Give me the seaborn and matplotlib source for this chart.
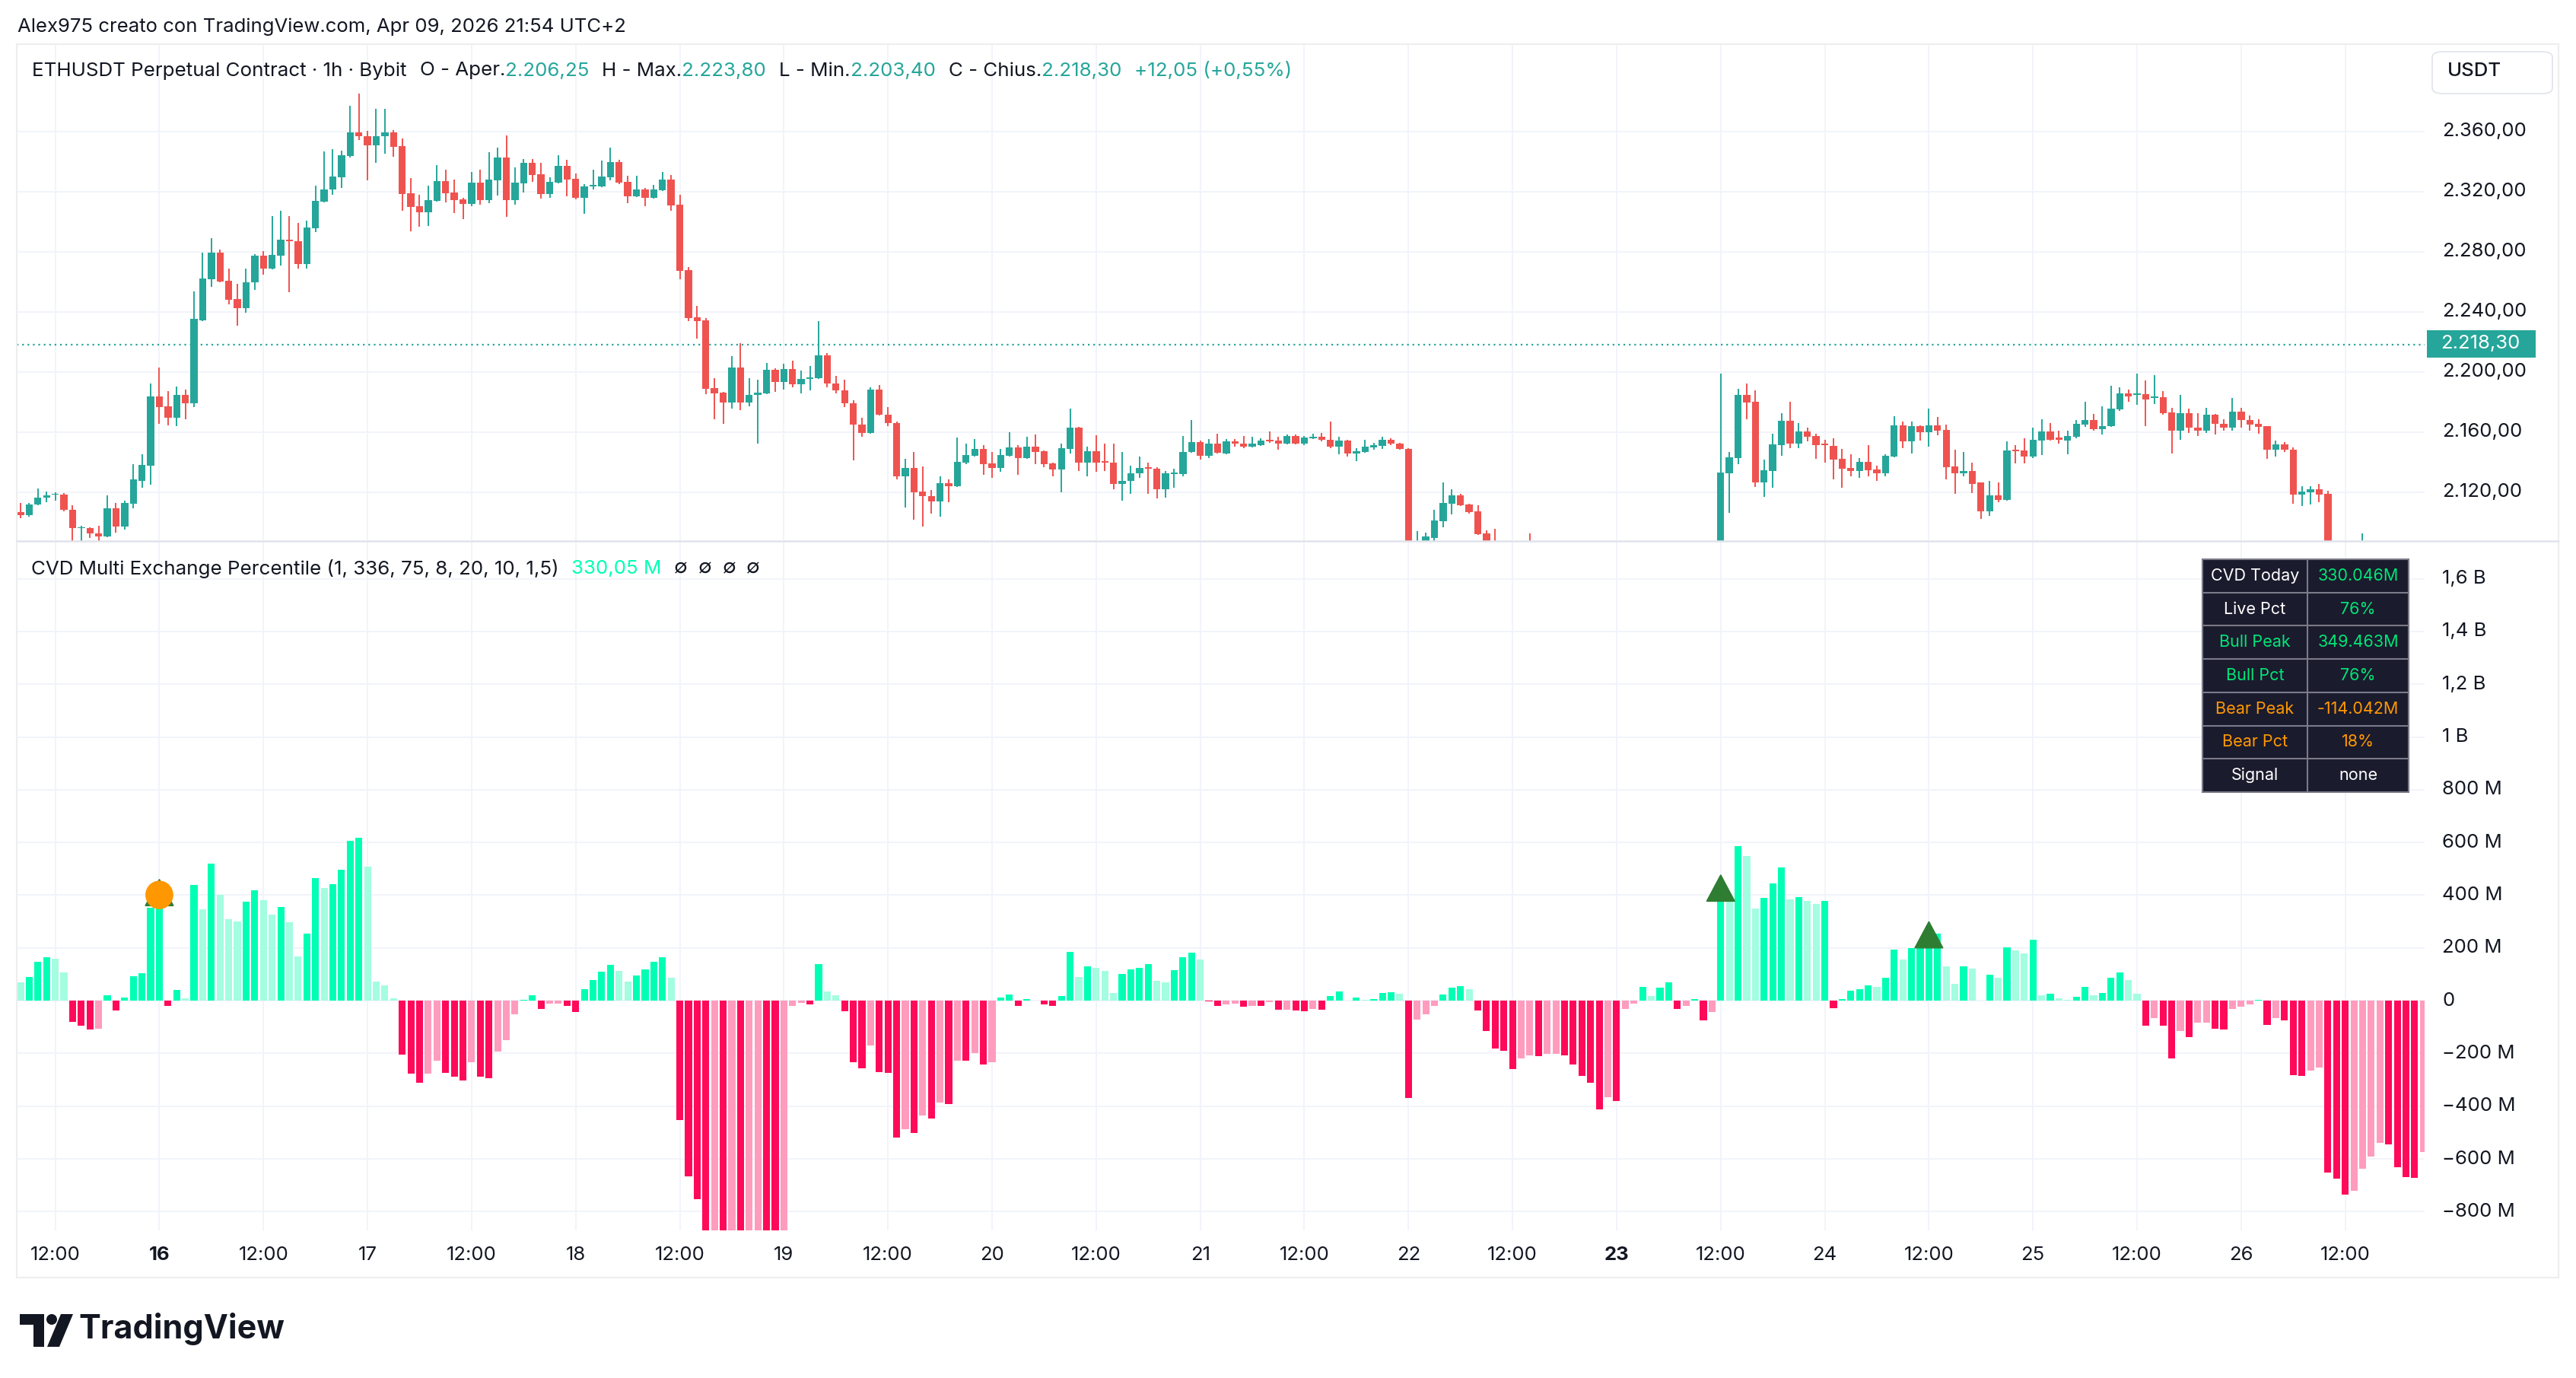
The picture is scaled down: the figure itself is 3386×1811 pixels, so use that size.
import numpy as np
import pandas as pd
import matplotlib
matplotlib.use("Agg")
import matplotlib.pyplot as plt
import seaborn as sns
from matplotlib import transforms
from matplotlib.patches import Rectangle, FancyBboxPatch, Polygon, Ellipse

# hourly ETHUSDT candles, first bar 15 Mar 08:00
first_bar = "2026-03-15 08:00"

open_ = [
    2107.0, 2104.6, 2111.8, 2116.2, 2118.4, 2118.6, 2108.2, 2096.0, 2096.4, 2092.8,
    2090.4, 2109.4, 2097.4, 2112.2, 2127.8, 2137.8, 2183.8, 2177.2, 2169.8, 2184.8,
    2179.4, 2234.4, 2261.8, 2279.4, 2260.8, 2248.6, 2242.2, 2259.6, 2277.4, 2268.8,
    2277.4, 2288.0, 2287.2, 2271.8, 2295.8, 2313.4, 2321.2, 2329.6, 2343.6, 2359.4,
    2356.8, 2350.8, 2356.6, 2359.4, 2350.2, 2319.0, 2310.4, 2306.2, 2313.8, 2327.0,
    2319.4, 2315.0, 2311.8, 2326.0, 2314.4, 2327.4, 2342.8, 2314.4, 2325.4, 2339.2,
    2331.6, 2318.4, 2326.0, 2337.2, 2328.6, 2315.8, 2323.4, 2323.4, 2329.6, 2339.6,
    2326.4, 2316.8, 2321.4, 2315.8, 2320.8, 2328.0, 2311.4, 2267.8, 2236.4, 2234.4,
    2189.4, 2186.4, 2179.8, 2203.0, 2179.8, 2184.8, 2185.8, 2201.4, 2193.2, 2201.8,
    2191.6, 2195.2, 2195.8, 2211.2, 2192.4, 2187.8, 2179.2, 2165.2, 2159.2, 2188.4,
    2171.8, 2166.2, 2130.8, 2136.4, 2120.6, 2117.6, 2113.8, 2126.2, 2123.8, 2139.8,
    2144.4, 2149.0, 2139.4, 2136.4, 2144.4, 2150.0, 2142.8, 2150.4, 2147.4, 2139.4,
    2135.2, 2149.0, 2163.2, 2139.8, 2147.4, 2140.8, 2139.8, 2125.8, 2127.6, 2132.4,
    2136.8, 2135.8, 2121.8, 2132.0, 2132.0, 2146.6, 2153.4, 2144.4, 2152.4, 2145.8,
    2153.8, 2152.4, 2150.4, 2151.4, 2154.8, 2154.4, 2152.4, 2157.4, 2152.4, 2156.0,
    2156.8, 2154.8, 2150.4, 2154.4, 2145.8, 2147.0, 2150.0, 2150.8, 2154.8, 2152.4,
    2148.8, 2076.0, 2085.0, 2089.8, 2100.7, 2112.5, 2117.8, 2111.8, 2107.2, 2092.6,
    2082.0, 2078.0, 2072.0, 2066.0, 2075.0, 2073.0, 2066.0, 2064.0, 2060.0, 2055.0,
    2050.0, 2044.0, 2038.0, 2030.0, 2034.0, 2026.0, 2032.0, 2036.0, 2045.0, 2048.0,
    2055.0, 2061.0, 2058.0, 2056.0, 2060.0, 2054.0, 2056.0, 2132.8, 2142.8, 2184.8,
    2180.4, 2126.4, 2134.2, 2151.4, 2167.6, 2152.4, 2160.6, 2157.2, 2152.4, 2151.0,
    2142.4, 2136.4, 2134.4, 2140.4, 2135.4, 2132.4, 2143.8, 2164.6, 2153.8, 2164.2,
    2160.2, 2164.6, 2161.6, 2137.4, 2132.8, 2134.4, 2126.4, 2107.4, 2118.2, 2114.8,
    2148.4, 2148.0, 2143.8, 2154.6, 2160.6, 2156.2, 2154.6, 2157.0, 2165.2, 2168.2,
    2162.2, 2163.8, 2175.2, 2185.8, 2184.8, 2185.4, 2182.8, 2183.4, 2173.2, 2161.2,
    2172.8, 2163.2, 2161.2, 2171.8, 2165.6, 2162.8, 2173.8, 2168.2, 2165.6, 2163.8,
    2148.2, 2152.0, 2148.4, 2118.4, 2120.2, 2122.2, 2118.8, 2066.0, 2058.0, 2046.0,
    2055.0, 2070.0, 2062.0, 2054.0, 2048.0, 2040.0, 2034.0, 2028.0,
]
high_ = [
    2113.0, 2112.8, 2122.4, 2120.4, 2120.2, 2119.4, 2111.6, 2097.6, 2096.8, 2097.8,
    2117.8, 2112.8, 2114.2, 2138.8, 2145.2, 2192.2, 2202.8, 2187.4, 2190.4, 2188.4,
    2253.8, 2279.2, 2288.8, 2281.2, 2268.8, 2258.8, 2268.6, 2278.2, 2280.2, 2303.4,
    2307.2, 2303.8, 2299.2, 2300.4, 2323.8, 2346.8, 2348.2, 2347.2, 2376.8, 2385.2,
    2360.4, 2375.2, 2375.2, 2360.8, 2355.4, 2329.0, 2317.8, 2324.0, 2337.6, 2334.6,
    2328.0, 2316.0, 2332.8, 2334.6, 2346.4, 2349.2, 2357.4, 2336.2, 2341.6, 2341.6,
    2339.2, 2329.4, 2344.2, 2341.2, 2332.0, 2325.0, 2334.6, 2340.6, 2349.2, 2341.2,
    2330.6, 2330.6, 2322.4, 2324.4, 2333.0, 2331.0, 2317.8, 2269.8, 2244.0, 2236.0,
    2196.0, 2186.8, 2210.6, 2219.0, 2196.0, 2195.0, 2206.2, 2202.4, 2205.4, 2207.4,
    2200.8, 2203.8, 2233.8, 2212.4, 2197.4, 2194.8, 2181.2, 2169.4, 2189.8, 2191.4,
    2176.8, 2166.8, 2142.4, 2147.0, 2137.4, 2121.4, 2130.8, 2128.8, 2156.2, 2152.2,
    2155.2, 2151.6, 2147.0, 2148.6, 2160.2, 2151.2, 2156.8, 2158.2, 2147.8, 2139.8,
    2152.4, 2175.8, 2163.6, 2150.4, 2157.8, 2152.4, 2152.4, 2147.0, 2137.8, 2143.8,
    2139.8, 2136.8, 2134.4, 2135.8, 2157.2, 2168.2, 2154.4, 2155.4, 2158.8, 2155.4,
    2155.4, 2157.4, 2156.8, 2155.8, 2160.4, 2156.8, 2158.4, 2158.4, 2157.4, 2159.0,
    2159.2, 2167.2, 2156.8, 2154.8, 2149.4, 2154.8, 2152.8, 2156.8, 2155.8, 2152.8,
    2149.2, 2094.4, 2093.4, 2108.3, 2126.4, 2121.9, 2119.2, 2112.3, 2111.3, 2094.6,
    2095.7, 2084.0, 2080.0, 2079.0, 2092.6, 2078.0, 2072.0, 2070.0, 2066.0, 2062.0,
    2056.0, 2050.0, 2044.0, 2038.0, 2040.0, 2036.0, 2040.0, 2048.0, 2052.0, 2058.0,
    2064.0, 2066.0, 2063.0, 2064.0, 2065.0, 2060.0, 2198.8, 2147.0, 2188.8, 2192.2,
    2187.8, 2141.8, 2158.8, 2172.4, 2180.4, 2166.2, 2163.2, 2158.8, 2154.8, 2155.8,
    2149.0, 2145.4, 2142.8, 2151.4, 2137.8, 2145.4, 2170.8, 2167.2, 2167.2, 2164.6,
    2175.4, 2170.0, 2165.2, 2148.4, 2147.0, 2139.8, 2126.8, 2127.4, 2126.4, 2154.0,
    2151.4, 2156.0, 2163.2, 2168.8, 2166.2, 2161.0, 2161.0, 2167.8, 2180.4, 2172.2,
    2177.4, 2191.0, 2190.0, 2188.2, 2198.8, 2194.2, 2198.0, 2187.4, 2176.2, 2184.8,
    2175.4, 2172.8, 2176.2, 2172.2, 2168.8, 2182.8, 2176.2, 2171.2, 2168.8, 2164.2,
    2154.4, 2153.4, 2150.0, 2123.8, 2123.8, 2125.4, 2120.8, 2074.0, 2064.0, 2060.0,
    2092.8, 2080.0, 2068.0, 2060.0, 2054.0, 2046.0, 2040.0, 2036.0,
]
low_ = [
    2102.6, 2104.0, 2111.2, 2113.2, 2114.2, 2107.2, 2086.0, 2086.0, 2089.4, 2087.0,
    2090.0, 2093.4, 2095.4, 2109.4, 2122.8, 2124.8, 2165.4, 2164.4, 2163.8, 2168.8,
    2176.4, 2233.8, 2256.4, 2259.6, 2244.8, 2230.6, 2239.2, 2254.8, 2264.8, 2268.2,
    2270.8, 2252.8, 2268.8, 2268.8, 2292.8, 2312.8, 2317.8, 2322.2, 2342.8, 2354.0,
    2327.2, 2339.2, 2345.2, 2343.2, 2307.4, 2293.6, 2296.8, 2297.2, 2313.2, 2312.8,
    2305.8, 2301.8, 2310.4, 2311.4, 2312.4, 2317.4, 2303.2, 2311.4, 2319.4, 2326.4,
    2315.4, 2315.8, 2325.6, 2316.8, 2314.8, 2305.4, 2321.4, 2323.0, 2327.6, 2325.0,
    2312.4, 2316.4, 2310.4, 2315.4, 2320.4, 2307.4, 2261.8, 2234.0, 2222.2, 2185.4,
    2168.4, 2165.4, 2175.8, 2174.8, 2177.4, 2152.2, 2185.2, 2186.8, 2188.2, 2189.6,
    2185.8, 2187.8, 2195.4, 2189.8, 2185.8, 2176.4, 2141.4, 2156.8, 2158.8, 2171.0,
    2164.2, 2128.8, 2109.8, 2101.8, 2097.4, 2105.8, 2103.8, 2113.4, 2123.4, 2138.8,
    2143.8, 2131.4, 2129.4, 2133.8, 2143.8, 2131.4, 2142.4, 2138.8, 2136.8, 2130.8,
    2119.8, 2145.8, 2134.2, 2130.4, 2133.4, 2134.4, 2121.8, 2114.2, 2118.8, 2129.4,
    2118.8, 2115.8, 2116.2, 2122.8, 2130.4, 2146.2, 2141.8, 2142.8, 2146.0, 2145.2,
    2150.4, 2149.4, 2150.0, 2151.0, 2152.8, 2148.4, 2152.0, 2151.8, 2151.4, 2155.6,
    2153.8, 2149.4, 2145.4, 2143.8, 2140.8, 2146.4, 2148.4, 2148.8, 2151.4, 2148.4,
    2068.0, 2070.0, 2080.0, 2085.0, 2096.8, 2105.2, 2110.8, 2105.7, 2091.8, 2078.0,
    2072.0, 2068.0, 2060.0, 2062.0, 2070.0, 2062.0, 2058.0, 2056.0, 2050.0, 2046.0,
    2040.0, 2034.0, 2024.0, 2022.0, 2020.0, 2022.0, 2028.0, 2034.0, 2040.0, 2044.0,
    2052.0, 2054.0, 2052.0, 2054.0, 2050.0, 2048.0, 2054.0, 2106.2, 2138.8, 2168.4,
    2123.4, 2116.8, 2123.2, 2144.4, 2149.4, 2149.4, 2153.8, 2142.4, 2139.8, 2128.8,
    2122.8, 2130.8, 2129.4, 2130.4, 2127.4, 2130.8, 2143.4, 2149.4, 2146.0, 2154.4,
    2150.4, 2157.8, 2128.8, 2118.8, 2130.4, 2119.4, 2102.2, 2104.4, 2113.2, 2114.4,
    2139.4, 2139.4, 2142.8, 2145.0, 2154.6, 2152.4, 2145.4, 2155.8, 2163.6, 2160.8,
    2158.2, 2163.4, 2174.2, 2180.4, 2178.4, 2163.8, 2178.8, 2171.4, 2146.0, 2155.0,
    2159.2, 2157.2, 2159.6, 2158.2, 2161.2, 2160.8, 2163.2, 2160.8, 2158.8, 2142.4,
    2143.8, 2146.8, 2112.4, 2110.8, 2111.8, 2113.2, 2060.0, 2052.0, 2040.0, 2040.0,
    2050.0, 2058.0, 2050.0, 2044.0, 2036.0, 2030.0, 2024.0, 2020.0,
]
close_ = [
    2104.6, 2112.0, 2116.4, 2118.2, 2119.2, 2108.2, 2096.0, 2096.8, 2092.6, 2090.4,
    2109.4, 2097.4, 2112.8, 2128.4, 2138.4, 2183.8, 2176.8, 2169.8, 2184.8, 2179.4,
    2235.2, 2262.2, 2279.4, 2260.2, 2248.0, 2242.2, 2259.8, 2277.4, 2268.8, 2278.0,
    2287.8, 2287.0, 2271.8, 2296.2, 2313.8, 2321.4, 2330.0, 2344.2, 2359.4, 2356.6,
    2350.8, 2356.8, 2359.4, 2349.8, 2318.4, 2309.8, 2306.2, 2314.4, 2327.0, 2319.0,
    2314.4, 2311.8, 2326.0, 2314.4, 2328.0, 2342.8, 2314.4, 2326.0, 2339.2, 2331.0,
    2318.4, 2326.4, 2337.2, 2328.0, 2315.8, 2323.4, 2324.4, 2330.0, 2339.6, 2326.0,
    2316.8, 2321.4, 2315.8, 2321.4, 2328.0, 2310.8, 2267.4, 2236.0, 2234.0, 2189.0,
    2186.0, 2179.8, 2203.0, 2179.8, 2184.8, 2186.4, 2201.4, 2193.2, 2201.8, 2191.6,
    2195.2, 2196.2, 2211.2, 2192.4, 2187.8, 2179.2, 2164.8, 2159.2, 2188.4, 2171.4,
    2166.2, 2130.8, 2136.4, 2120.2, 2117.2, 2113.8, 2126.2, 2123.8, 2140.4, 2145.0,
    2149.0, 2138.8, 2136.4, 2145.0, 2150.0, 2142.8, 2150.4, 2147.0, 2138.8, 2135.2,
    2149.4, 2163.2, 2139.8, 2147.4, 2139.8, 2139.8, 2125.8, 2127.8, 2132.8, 2136.4,
    2135.8, 2121.8, 2132.4, 2133.0, 2147.0, 2153.4, 2144.4, 2152.4, 2146.4, 2153.8,
    2152.4, 2150.4, 2152.4, 2154.4, 2154.0, 2152.4, 2157.4, 2152.4, 2156.4, 2157.0,
    2154.8, 2150.4, 2154.4, 2145.8, 2147.4, 2150.4, 2151.4, 2154.8, 2152.4, 2148.8,
    2076.0, 2085.0, 2090.4, 2101.2, 2112.8, 2117.8, 2111.4, 2106.9, 2092.3, 2082.0,
    2078.0, 2072.0, 2066.0, 2075.0, 2073.0, 2066.0, 2064.0, 2060.0, 2055.0, 2050.0,
    2044.0, 2038.0, 2030.0, 2034.0, 2026.0, 2032.0, 2036.0, 2045.0, 2048.0, 2055.0,
    2061.0, 2058.0, 2056.0, 2060.0, 2054.0, 2056.0, 2133.2, 2143.4, 2184.8, 2179.8,
    2126.4, 2134.8, 2152.0, 2167.6, 2152.4, 2160.6, 2156.8, 2151.4, 2151.4, 2141.8,
    2135.8, 2134.4, 2140.4, 2134.8, 2132.4, 2144.4, 2164.6, 2153.8, 2164.2, 2160.2,
    2164.6, 2161.2, 2136.8, 2132.8, 2134.4, 2125.8, 2107.4, 2118.2, 2114.8, 2148.0,
    2147.4, 2143.8, 2155.0, 2160.6, 2155.0, 2155.0, 2157.6, 2165.6, 2168.2, 2162.2,
    2164.2, 2175.8, 2185.8, 2183.8, 2185.8, 2181.8, 2183.8, 2172.8, 2161.2, 2172.8,
    2162.8, 2161.2, 2171.8, 2165.6, 2162.8, 2173.8, 2167.8, 2165.2, 2163.6, 2148.2,
    2152.0, 2148.2, 2118.4, 2120.4, 2122.2, 2118.4, 2066.0, 2058.0, 2046.0, 2055.0,
    2070.0, 2062.0, 2054.0, 2048.0, 2040.0, 2034.0, 2028.0, 2032.0,
]

# CVD histogram (millions) and whether the bar is drawn in the strong shade
cvd = [
    70, 90, 148, 165, 159, 107, -80, -96, -108, -106,
    21, -38, 12, 93, 105, 352, 352, -19, 41, 9,
    440, 347, 520, 402, 310, 300, 376, 419, 381, 327,
    356, 298, 168, 254, 465, 428, 442, 497, 607, 619,
    508, 73, 59, 9, -204, -278, -312, -278, -227, -274,
    -287, -303, -232, -287, -293, -192, -151, -53, 4, 21,
    -30, -10, -10, -21, -42, 44, 78, 110, 136, 114,
    73, 96, 119, 148, 165, 87, -452, -667, -752, -960,
    -990, -1020, -1000, -1050, -1010, -980, -1030, -1060, -990, -19,
    -8, -15, 139, 36, 20, -39, -232, -256, -171, -271,
    -275, -518, -486, -502, -435, -446, -387, -392, -228, -228,
    -199, -242, -233, 12, 23, -21, 7, 1, -13, -21,
    18, 186, 91, 130, 123, 113, 30, 102, 119, 125,
    139, 75, 70, 116, 165, 182, 157, -3, -21, -13,
    -10, -24, -19, -19, -4, -33, -33, -36, -39, -30,
    -33, 18, 35, 1, 12, 2, 7, 28, 31, 27,
    -369, -71, -52, -19, 23, 50, 55, 44, -38, -115,
    -181, -190, -260, -218, -207, -210, -201, -201, -207, -242,
    -284, -312, -411, -365, -380, -30, -10, 53, 18, 50,
    70, -30, -21, 7, -76, -44, 377, 377, 587, 549,
    350, 390, 445, 506, 385, 393, 379, 368, 379, -28,
    7, 38, 44, 59, 53, 87, 194, 155, 200, 200,
    200, 254, 130, 64, 130, 122, 1, 98, 87, 202,
    191, 180, 232, 21, 27, 9, 4, 15, 53, 21,
    30, 87, 107, 78, 27, -96, -65, -94, -218, -115,
    -137, -82, -82, -105, -110, -32, -24, -15, 3, -91,
    -66, -76, -281, -286, -264, -253, -651, -674, -734, -720,
    -636, -590, -538, -546, -632, -669, -671, -574,
]
strong = [
    0, 1, 1, 1, 0, 0, 1, 1, 1, 0,
    1, 1, 1, 1, 1, 1, 1, 1, 1, 0,
    1, 0, 1, 0, 0, 0, 1, 1, 0, 0,
    1, 0, 0, 1, 1, 0, 1, 1, 1, 1,
    0, 0, 0, 0, 1, 1, 1, 0, 0, 1,
    1, 1, 0, 1, 1, 0, 0, 0, 1, 1,
    1, 0, 0, 1, 1, 1, 1, 1, 1, 0,
    0, 1, 1, 1, 1, 0, 1, 1, 1, 1,
    0, 1, 0, 1, 0, 0, 1, 1, 0, 0,
    0, 1, 1, 0, 0, 1, 1, 1, 0, 1,
    1, 1, 0, 1, 0, 1, 0, 1, 0, 1,
    0, 1, 0, 1, 1, 1, 1, 0, 1, 1,
    1, 1, 0, 1, 0, 0, 0, 1, 1, 1,
    1, 0, 0, 1, 1, 1, 0, 1, 1, 0,
    0, 1, 0, 1, 0, 1, 0, 1, 1, 0,
    1, 1, 1, 0, 1, 0, 1, 1, 1, 0,
    1, 0, 0, 0, 1, 1, 1, 0, 1, 1,
    1, 1, 1, 0, 0, 1, 0, 0, 1, 1,
    1, 1, 1, 0, 1, 0, 0, 1, 0, 1,
    1, 1, 0, 1, 1, 0, 1, 0, 1, 0,
    0, 1, 1, 1, 0, 1, 0, 0, 1, 1,
    1, 1, 1, 1, 0, 1, 1, 0, 1, 1,
    1, 1, 0, 0, 1, 0, 0, 1, 0, 1,
    0, 0, 1, 0, 1, 0, 0, 1, 1, 0,
    1, 1, 1, 0, 0, 1, 0, 1, 1, 0,
    1, 0, 0, 1, 1, 0, 0, 0, 1, 1,
    0, 1, 1, 1, 0, 0, 1, 1, 1, 0,
    0, 0, 0, 1, 1, 1, 1, 0,
]

# signal markers: (hour since 15 Mar 00:00, level in M)
triangles = [(24, 360), (204, 377), (228, 200)]
circles = [(24, 401)]

price_ticks = [2120, 2160, 2200, 2240, 2280, 2320, 2360]
cvd_ticks = [-800, -600, -400, -200, 0, 200, 400, 600, 800, 1000, 1200, 1400, 1600]
cvd_tick_labels = ["\u2212800 M", "\u2212600 M", "\u2212400 M", "\u2212200 M", "0", "200 M",
                   "400 M", "600 M", "800 M", "1 B", "1,2 B", "1,4 B", "1,6 B"]
last_price = 2218.30

table_rows = [
    ("CVD Today", "330.046M", "w", "g"),
    ("Live Pct", "76%", "w", "g"),
    ("Bull Peak", "349.463M", "g", "g"),
    ("Bull Pct", "76%", "g", "g"),
    ("Bear Peak", "-114.042M", "o", "o"),
    ("Bear Pct", "18%", "o", "o"),
    ("Signal", "none", "w", "w"),
]

# ---------------------------------------------------------------
sns.set_theme(style="white")
plt.rcParams["font.family"] = ["Inter", "DejaVu Sans"]

TXT = "#131722"
GRID = "#f0f3fa"
UP, DN = "#26a69a", "#ef5350"
pal = {"bull": "#00ffb4", "bull_soft": "#a3fde0", "bear": "#ff0a5a", "bear_soft": "#ff9cbd"}
tcol = {"w": "white", "g": "#00e676", "o": "#ff9800"}
AX_FS = 18.5
LEG_FS = 18.7

W, H = 3386, 1811
fig = plt.figure(figsize=(W / 100, H / 100), dpi=100)
fig.patch.set_facecolor("white")


def fx(px):
    return px / W


def fy(py):
    return 1 - py / H


L, R = 22, 3187
ax_p = fig.add_axes([fx(L), fy(711), (R - L) / W, (711 - 58) / H])
ax_c = fig.add_axes([fx(L), fy(1617), (R - L) / W, (1617 - 711) / H])

times = pd.date_range(first_bar, periods=len(close_), freq="h")
hrs = ((times - pd.Timestamp("2026-03-15")) / pd.Timedelta(hours=1)).to_numpy()
xlim = (7.56, 285.15)

o = np.array(open_)
hi = np.array(high_)
lo = np.array(low_)
c = np.array(close_)
col = np.where(c >= o, UP, DN)

for ax in (ax_p, ax_c):
    ax.set_facecolor("white")
    for s in ax.spines.values():
        s.set_visible(False)
    for hh in range(12, 286, 12):
        ax.axvline(hh, color=GRID, lw=1.3, zorder=0)

# price pane
for v in price_ticks:
    ax_p.axhline(v, color=GRID, lw=1.3, zorder=0)
ax_p.axhline(last_price, color=UP, lw=1.6, ls=(0, (1, 2.2)), zorder=1)
ax_p.vlines(hrs, lo, hi, colors=col, lw=1.4, zorder=2)
ax_p.bar(hrs, np.maximum(np.abs(c - o), 0.6), bottom=np.minimum(o, c), width=0.82,
         color=col, linewidth=0, zorder=3)
ax_p.set_xlim(*xlim)
ax_p.set_ylim(2087.6, 2418.0)
ax_p.set_xticks([])
ax_p.set_yticks([])

# CVD pane
for v in cvd_ticks:
    ax_c.axhline(v, color=GRID, lw=1.3, zorder=0)
cv = np.array(cvd)
st = np.array(strong).astype(bool)
kind = np.where(cv >= 0, np.where(st, "bull", "bull_soft"), np.where(st, "bear", "bear_soft"))
df = pd.DataFrame({"hour": hrs, "cvd": cv, "kind": kind})
sns.barplot(data=df, x="hour", y="cvd", hue="kind", palette=pal, native_scale=True,
            dodge=False, width=0.8, errorbar=None, legend=False, saturation=1,
            linewidth=0, ax=ax_c, zorder=2)
for hx, v in triangles:
    ax_c.add_patch(Polygon([(hx - 1.62, v), (hx + 1.62, v), (hx, v + 100)],
                           closed=True, color="#2e7d32", zorder=4))
for hx, v in circles:
    ax_c.add_patch(Ellipse((hx, v), 3.1, 104, color="#ff9800", zorder=5))
ax_c.set_xlim(*xlim)
ax_c.set_ylim(-871, 1743)
ax_c.set_xticks([])
ax_c.set_yticks([])
ax_c.set_xlabel("")
ax_c.set_ylabel("")

# frame lines
fig.add_artist(Rectangle((fx(22), fy(1679)), (3363 - 22) / W, (1679 - 58) / H,
                         transform=fig.transFigure, fill=False, ec="#eeeeee", lw=1.6))
fig.add_artist(plt.Line2D([fx(22), fx(3363)], [fy(711), fy(711)],
                          transform=fig.transFigure, color="#e0e3eb", lw=1.8))

# right scale
tp = transforms.blended_transform_factory(fig.transFigure, ax_p.transData)
for v in price_ticks:
    fig.text(fx(3210), v, f"{v // 1000}.{v % 1000:03d},00", transform=tp, fontsize=AX_FS,
             color=TXT, va="center", ha="left")
tc = transforms.blended_transform_factory(fig.transFigure, ax_c.transData)
for v, s in zip(cvd_ticks, cvd_tick_labels):
    fig.text(fx(3210), v, s, transform=tc, fontsize=AX_FS, color=TXT, va="center", ha="left")

fig.add_artist(Rectangle((fx(3190), fy(470)), 143 / W, 36 / H, transform=fig.transFigure,
                         color=UP, lw=0))
fig.text(fx(3208), fy(452), "2.218,30", fontsize=AX_FS, color="white", va="center", ha="left")
fig.add_artist(FancyBboxPatch((fx(3197), fy(123)), 158 / W, 55 / H, transform=fig.transFigure,
                              boxstyle="round,pad=0,rounding_size=0.004", fill=False,
                              ec="#e0e3eb", lw=1.2))
fig.text(fx(3252), fy(94), "USDT", fontsize=AX_FS, color=TXT, va="center", ha="center",
         fontweight="medium")

# time axis
tx = transforms.blended_transform_factory(ax_c.transData, fig.transFigure)
for hh in range(12, 286, 12):
    if hh % 24 == 12:
        lab, bold = "12:00", False
    else:
        day = 15 + hh // 24
        lab, bold = str(day), day in (16, 23)
    fig.text(hh, fy(1650), lab, transform=tx, fontsize=AX_FS, color=TXT, ha="center",
             va="center", fontweight="bold" if bold else "normal")


# legends: segments chained one after another, hosted on the pane they sit in
def chain(host, parts, x, y, size):
    prev = fig.text(fx(x), fy(y), parts[0][0], color=parts[0][1], fontsize=size,
                    va="center", ha="left")
    for s, cc, gap in parts[1:]:
        prev = host.annotate(s, xy=(1, 0.5), xycoords=prev, xytext=(gap * 0.72, 0),
                             textcoords="offset points", color=cc, fontsize=size,
                             va="center", ha="left", annotation_clip=False, zorder=10)


fig.text(fx(23), fy(35), "Alex975 creato con TradingView.com, Apr 09, 2026 21:54 UTC+2",
         fontsize=18.5, color=TXT, va="center", ha="left")
chain(ax_p, [("ETHUSDT Perpetual Contract \u00b7 1h \u00b7 Bybit", TXT),
             ("O - Aper.", TXT, 17), ("2.206,25", UP, 0),
             ("H - Max.", TXT, 17), ("2.223,80", UP, 0),
             ("L - Min.", TXT, 17), ("2.203,40", UP, 0),
             ("C - Chius.", TXT, 17), ("2.218,30", UP, 0),
             ("+12,05 (+0,55%)", UP, 17)], 42, 93, LEG_FS)
chain(ax_c, [("CVD Multi Exchange Percentile (1, 336, 75, 8, 20, 10, 1,5)", TXT),
             ("330,05 M", pal["bull"], 16),
             ("\u2205", TXT, 17), ("\u2205", TXT, 14), ("\u2205", TXT, 14), ("\u2205", TXT, 14)],
      41, 747, LEG_FS)

# info table
tx0, tx1, tsplit, ty0, ty1 = 2895, 3166, 3033, 735, 1041
rh = (ty1 - ty0) / len(table_rows)
fig.add_artist(Rectangle((fx(tx0), fy(ty1)), (tx1 - tx0) / W, (ty1 - ty0) / H,
                         transform=fig.transFigure, fc="#1b1b2e", ec="#7a7a88", lw=1.5))
fig.add_artist(plt.Line2D([fx(tsplit), fx(tsplit)], [fy(ty0), fy(ty1)],
                          transform=fig.transFigure, color="#7a7a88", lw=1.5))
for i, (a, b, ca, cb) in enumerate(table_rows):
    yc = ty0 + rh * (i + 0.5)
    if i > 0:
        yl = ty0 + rh * i
        fig.add_artist(plt.Line2D([fx(tx0), fx(tx1)], [fy(yl), fy(yl)],
                                  transform=fig.transFigure, color="#7a7a88", lw=1.5))
    fig.text(fx((tx0 + tsplit) / 2), fy(yc), a, color=tcol[ca], fontsize=15.5,
             ha="center", va="center")
    fig.text(fx((tsplit + tx1) / 2), fy(yc), b, color=tcol[cb], fontsize=15.5,
             ha="center", va="center")

# TradingView logo
k = "#131722"
fig.add_artist(Rectangle((fx(26), fy(1741)), 32 / W, 14 / H, transform=fig.transFigure,
                         color=k, lw=0))
fig.add_artist(Rectangle((fx(44), fy(1770)), 14 / W, 43 / H, transform=fig.transFigure,
                         color=k, lw=0))
fig.add_artist(Ellipse((fx(68), fy(1734)), 14 / W, 14 / H, transform=fig.transFigure,
                       color=k, lw=0))
fig.add_artist(Polygon([(fx(80), fy(1727)), (fx(96), fy(1727)), (fx(78), fy(1770)),
                        (fx(62), fy(1770))], closed=True, transform=fig.transFigure,
                       color=k, lw=0))
fig.text(fx(103), fy(1746), "TradingView", fontsize=31, fontweight="bold", color=k,
         va="center", ha="left")

fig.savefig("out.png", dpi=100, facecolor="white")
